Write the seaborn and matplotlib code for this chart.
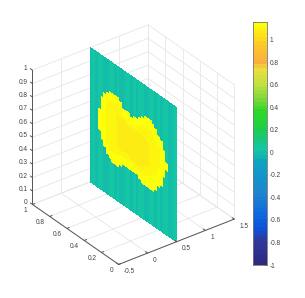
import numpy as np
import matplotlib
matplotlib.use('Agg')
import matplotlib.pyplot as plt
import seaborn as sns
from matplotlib.colors import ListedColormap, Normalize
from mpl_toolkits.mplot3d import proj3d

# axis ticks
x_ticks = [-0.5, 0, 0.5, 1, 1.5]
x_labels = ['-0.5', '0', '0.5', '1', '1.5']
y_ticks = [0, 0.2, 0.4, 0.6, 0.8, 1]
y_labels = ['0', '0.2', '0.4', '0.6', '0.8', '1']
z_ticks = [0, 0.1, 0.2, 0.3, 0.4, 0.5, 0.6, 0.7, 0.8, 0.9, 1]
z_labels = ['0', '0.1', '0.2', '0.3', '0.4', '0.5', '0.6', '0.7', '0.8', '0.9', '1']
cbar_ticks = [-1, -0.8, -0.6, -0.4, -0.2, 0, 0.2, 0.4, 0.6, 0.8, 1]
cbar_labels = ['-1', '-0.8', '-0.6', '-0.4', '-0.2', '0', '0.2', '0.4', '0.6', '0.8', '1']

# colormap
cmap_values = [-1, -0.8, -0.68, -0.55, -0.4, -0.2, -0.07, -0.06, 0, 0.1, 0.2, 0.35,
               0.45, 0.6, 0.72, 0.76, 0.8, 1.0, 1.157]
cmap_colors = ['#2d2a80', '#303a9e', '#1050d8', '#0d6ade', '#1e82cf', '#1299c8', '#0ca8bc',
               '#13b3b0', '#15c6a5', '#18c878', '#20d040', '#2fd828', '#78d838', '#c0e040',
               '#ecdf3c', '#f4c840', '#fbb03c', '#fcd022', '#fcff0a']

# sheet: one value per column for the background stripes
background = [0.005, 0.04, 0.005, 0.02, 0.04, 0.005, 0.005, 0.04, 0.02, 0.005, 0.04, 0.005,
              0.005, 0.04, 0.02, 0.005, 0.04, 0.005, 0.02, 0.04, 0.005, 0.005, 0.04, 0.02,
              0.005, 0.04, 0.005, 0.02, 0.04, 0.005, 0.005, 0.02]

# blob outline, first column index then height limits per column
blob_start = 3
blob_top = [.61, .693, .732, .758, .783, .784, .786, .783, .767, .724, .713, .713, .709,
            .713, .712, .741, .766, .78, .779, .773, .767, .744, .708, .672, .612, .534]
blob_bottom = [.448, .387, .344, .303, .28, .269, .266, .266, .28, .304, .303, .302, .30,
               .30, .30, .274, .268, .262, .261, .26, .25, .279, .315, .349, .413, .477]
mid_start = 4
mid_top = [.65, .70, .73, .75, .76, .76, .76, .75, .72, .69, .685, .685, .685, .685, .70,
           .73, .75, .75, .745, .735, .71, .68, .64, .58]
mid_bottom = [.43, .38, .34, .32, .30, .295, .295, .31, .33, .33, .33, .33, .33, .32, .30,
              .295, .29, .29, .285, .31, .345, .38, .44, .50]
inner_start = 6
inner_top = [.70, .72, .73, .73, .72, .70, .67, .66, .65, .65, .65, .66, .68, .70, .71, .71,
             .70, .68, .65, .62]
inner_bottom = [.36, .34, .33, .33, .34, .36, .36, .36, .36, .35, .34, .33, .33, .33, .33,
                .34, .36, .38, .41, .45]
core_start = 10
core_top = [.66, .65, .64, .63, .63, .63, .63, .63, .63, .63, .62, .60]
core_bottom = [.42, .40, .39, .39, .39, .38, .38, .38, .38, .38, .39, .42]
rim_value = 1.157
mid_value = 1.14
inner_value = 1.115
core_value = 1.08

n_rows = 50
vmin, vmax = -1, 1.157

sns.set_style('white')
plt.rcParams['font.family'] = ['Liberation Sans', 'DejaVu Sans']

# 64 level colormap built from the stops
n_levels = 64
cum = [int(round((v - vmin) / (vmax - vmin) * n_levels)) for v in cmap_values]
stops = []
for i in range(len(cmap_values) - 1):
    n = cum[i + 1] - cum[i]
    if n > 0:
        pal = list(sns.blend_palette([cmap_colors[i], cmap_colors[i + 1]], n + 1))
        stops += pal[1:] if i == len(cmap_values) - 2 else pal[:-1]
cmap = ListedColormap(stops)
norm = Normalize(vmin, vmax)

# build the sheet values
n_cols = len(background)
z_edges = np.linspace(0, 1, n_rows + 1)
y_edges = np.linspace(1, 0, n_cols + 1)
z_mid = (z_edges[:-1] + z_edges[1:]) / 2
sheet = np.tile(np.array(background), (n_rows, 1))


def fill_region(values, start, top, bottom, level):
    for k in range(len(top)):
        inside = (z_mid < top[k]) & (z_mid > bottom[k])
        values[inside, start + k] = level


fill_region(sheet, blob_start, blob_top, blob_bottom, rim_value)
fill_region(sheet, mid_start, mid_top, mid_bottom, mid_value)
fill_region(sheet, inner_start, inner_top, inner_bottom, inner_value)
fill_region(sheet, core_start, core_top, core_bottom, core_value)

fig = plt.figure(figsize=(3.05, 2.98), dpi=100)
ax = fig.add_axes([5 / 305, 25 / 298, 250 / 305, 250 / 298], projection='3d', proj_type='ortho')
ax.computed_zorder = False
ax.view_init(elev=31.5, azim=-126.9)
ax.set_xlim(-0.5, 1.5)
ax.set_ylim(0, 1)
ax.set_zlim(0, 1)
ax.set_box_aspect((145, 144, 158))
ax.set_axis_off()

grid = dict(color='#e6e6e6', lw=0.6, zorder=1)
for t in x_ticks:
    ax.plot([t, t], [0, 1], [0, 0], **grid)
    ax.plot([t, t], [1, 1], [0, 1], **grid)
for t in y_ticks:
    ax.plot([-0.5, 1.5], [t, t], [0, 0], **grid)
    ax.plot([1.5, 1.5], [t, t], [0, 1], **grid)
for t in z_ticks:
    ax.plot([-0.5, 1.5], [1, 1], [t, t], **grid)
    ax.plot([1.5, 1.5], [0, 1], [t, t], **grid)

Y, Z = np.meshgrid(y_edges, z_edges)
X = np.full_like(Y, 0.5)
ax.plot_surface(X, Y, Z, facecolors=cmap(norm(sheet)), rstride=1, cstride=1, shade=False,
                linewidth=0, antialiased=False, zorder=2)

line = dict(color='#555555', lw=0.7, zorder=3)
ax.plot([-0.5, 1.5], [0, 0], [0, 0], **line)
ax.plot([-0.5, -0.5], [0, 1], [0, 0], **line)
ax.plot([-0.5, -0.5], [1, 1], [0, 1], **line)
for t in x_ticks:
    ax.plot([t, t], [0, 0.025], [0, 0], **line)
for t in y_ticks:
    ax.plot([-0.5, -0.46], [t, t], [0, 0], **line)
for t in z_ticks:
    ax.plot([-0.5, -0.5], [1, 1.025], [t, t], **line)


def label(text, xyz, dx, dy, ha):
    px, py, _ = proj3d.proj_transform(xyz[0], xyz[1], xyz[2], ax.get_proj())
    ax.annotate(text, (px, py), xytext=(dx, dy), textcoords='offset pixels', ha=ha, va='center',
                fontsize=4.7, color='#404040', annotation_clip=False)


for t, s in zip(x_ticks, x_labels):
    label(s, (t, 0, 0), 5, -7, 'left')
for t, s in zip(y_ticks, y_labels):
    label(s, (-0.5, t, 0), -5, -6.5, 'right')
for t, s in zip(z_ticks, z_labels):
    label(s, (-0.5, 1, t), -5, 1.5, 'right')

# colorbar drawn as a one column heatmap
cax = fig.add_axes([252.7 / 305, (298 - 265) / 298, 14 / 305, 243 / 298])
levels = np.linspace(vmax, vmin, n_levels).reshape(-1, 1)
sns.heatmap(levels, ax=cax, cmap=cmap, vmin=vmin, vmax=vmax, cbar=False,
            xticklabels=False, yticklabels=False)
cax.set_yticks([(vmax - t) / (vmax - vmin) * n_levels for t in cbar_ticks])
cax.set_yticklabels(cbar_labels)
cax.yaxis.tick_right()
cax.tick_params(axis='y', direction='in', length=2, width=0.5, color='#555555', labelsize=4.7,
                labelcolor='#404040', pad=2, right=True, left=False)
for sp in cax.spines.values():
    sp.set_visible(True)
    sp.set_color('#777777')
    sp.set_linewidth(0.6)

fig.savefig('out.png', dpi=100)
